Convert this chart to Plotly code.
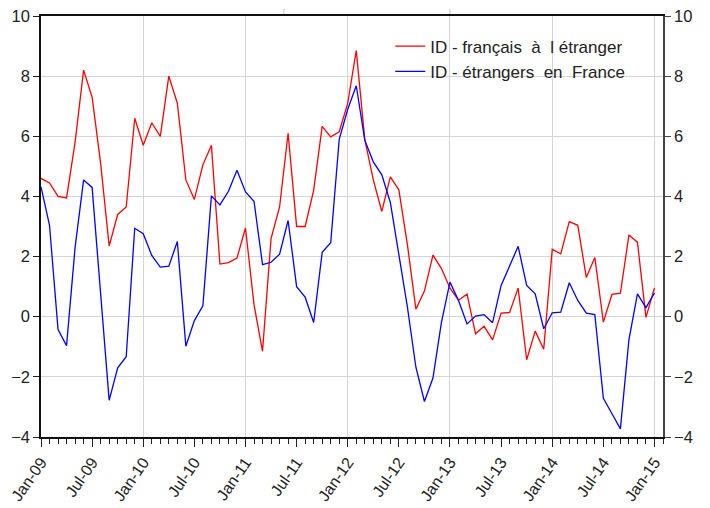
import plotly.graph_objects as go

# Monthly observations Jan-09 .. Jan-15 (73 months)
years = list(range(2009, 2016))
month_abbr = ["Jan", "Feb", "Mar", "Apr", "May", "Jun", "Jul", "Aug", "Sep", "Oct", "Nov", "Dec"]
months = [f"{month_abbr[m]}-{str(y)[2:]}" for y in years for m in range(12)][:73]

id_francais_etranger = [
    4.6, 4.45, 4.0, 3.95, 5.8, 8.2, 7.3, 5.1, 2.35, 3.4, 3.65, 6.6,
    5.7, 6.45, 6.0, 8.0, 7.1, 4.55, 3.9, 5.05, 5.7, 1.75, 1.8, 1.95,
    2.95, 0.4, -1.15, 2.6, 3.65, 6.1, 3.0, 3.0, 4.2, 6.33, 5.98, 6.15,
    7.1, 8.85, 5.9, 4.55, 3.5, 4.65, 4.22, 2.4, 0.25, 0.85, 2.05, 1.6,
    0.95, 0.55, 0.75, -0.57, -0.32, -0.77, 0.12, 0.14, 0.95, -1.43, -0.48, -1.08,
    2.24, 2.09, 3.16, 3.04, 1.3, 1.97, -0.18, 0.74, 0.78, 2.72, 2.48, -0.02,
    0.96,
]

id_etrangers_france = [
    4.32, 3.04, -0.43, -0.96, 2.3, 4.55, 4.3, 0.8, -2.78, -1.7, -1.33, 2.94,
    2.76, 2.04, 1.65, 1.68, 2.5, -0.98, -0.13, 0.36, 4.02, 3.72, 4.17, 4.87,
    4.15, 3.84, 1.73, 1.81, 2.08, 3.2, 1.0, 0.65, -0.19, 2.14, 2.46, 5.9,
    6.9, 7.68, 5.87, 5.15, 4.72, 3.8, 2.0, 0.33, -1.68, -2.82, -2.04, -0.18,
    1.15, 0.54, -0.24, 0.02, 0.07, -0.2, 1.04, 1.68, 2.34, 1.04, 0.76, -0.4,
    0.13, 0.15, 1.13, 0.54, 0.12, 0.07, -2.71, -3.22, -3.73, -0.77, 0.76, 0.3,
    0.79,
]

series_names = ["ID - français\u00a0 à\u00a0 l étranger", "ID - étrangers\u00a0 en\u00a0 France"]
y_ticks = [-4, -2, 0, 2, 4, 6, 8, 10]

idx = list(range(len(months)))
label_idx = [i for i in idx if i % 6 == 0]
label_txt = [months[i] for i in label_idx]
jan_idx = [i for i in idx if i % 12 == 0]

FONT = "Arial, Liberation Sans, sans-serif"

fig = go.Figure()
fig.add_trace(go.Scatter(x=idx, y=id_francais_etranger, mode="lines", name=series_names[0],
                         line=dict(color="#ff0000", width=1.3), xaxis="x", yaxis="y"))
fig.add_trace(go.Scatter(x=idx, y=id_etrangers_france, mode="lines", name=series_names[1],
                         line=dict(color="#0000ff", width=1.3), xaxis="x2", yaxis="y2"))

xr = [0, len(months)]
yr = [-4, 10]

# the page body adds an 8px margin around the figure, so the figure is 8px smaller
fig.update_layout(
    width=702, height=500,
    margin=dict(l=33, r=47, t=8, b=71, autoexpand=False),
    paper_bgcolor="white", plot_bgcolor="white",
    font=dict(family=FONT, color="#222222", size=16),
    showlegend=True,
    legend=dict(x=0.5615, y=0.97, xanchor="left", yanchor="top",
                bgcolor="rgba(0,0,0,0)", font=dict(size=17, color="#222222"),
                itemwidth=30, tracegroupgap=0),
    xaxis=dict(range=xr, tickmode="array", tickvals=label_idx, ticktext=label_txt,
               tickangle=-55, ticks="outside", ticklen=8, tickcolor="#222222",
               showgrid=False, zeroline=False, showline=True, linecolor="#111111", linewidth=1.5,
               automargin=False, ticklabeloverflow="allow",
               minor=dict(tickmode="linear", tick0=0, dtick=1, ticks="outside", ticklen=5,
                          tickcolor="#222222", showgrid=False),
               tickfont=dict(size=16)),
    xaxis2=dict(range=xr, overlaying="x", side="top", tickmode="array", tickvals=jan_idx,
                showticklabels=False, ticks="", showgrid=True, gridcolor="#d4d4d4", gridwidth=1,
                zeroline=False, showline=True, linecolor="#111111", linewidth=1.5,
                automargin=False),
    yaxis=dict(range=yr, tickvals=y_ticks, ticks="outside", ticklen=6, tickcolor="#222222",
               showgrid=True, gridcolor="#d4d4d4", gridwidth=1, zeroline=False,
               showline=True, linecolor="#111111", linewidth=1.5, tickfont=dict(size=16.5),
               automargin=False, ticklabeloverflow="allow"),
    yaxis2=dict(range=yr, tickvals=y_ticks, overlaying="y", side="right", ticks="outside",
                ticklen=6, tickcolor="#444444", showgrid=False, zeroline=False,
                showline=True, linecolor="#444444", linewidth=1.5, tickfont=dict(size=16.5),
                automargin=False, ticklabeloverflow="allow"),
)

# Top title of the original is almost entirely cut off; only its parentheses show
fig.add_annotation(text="(", xref="paper", yref="paper", x=(284 - 41) / 622, y=1.0,
                   yshift=0, xanchor="center", yanchor="bottom", showarrow=False,
                   font=dict(size=5, color="#6a86b8"))
fig.add_annotation(text=")", xref="paper", yref="paper", x=(450 - 41) / 622, y=1.0,
                   yshift=0, xanchor="center", yanchor="bottom", showarrow=False,
                   font=dict(size=5, color="#6a86b8"))

fig.write_html("out.html")
